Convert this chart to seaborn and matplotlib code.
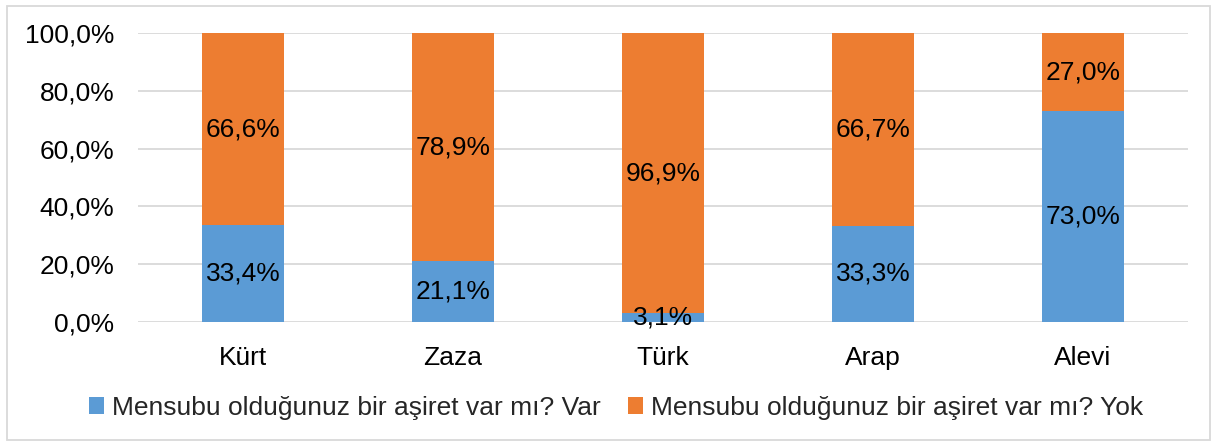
import matplotlib
matplotlib.use("Agg")
import matplotlib.pyplot as plt
import seaborn as sns
import pandas as pd
from matplotlib.ticker import FuncFormatter
from matplotlib.patches import Rectangle

categories = ["Kürt", "Zaza", "Türk", "Arap", "Alevi"]
var_values = [33.4, 21.1, 3.1, 33.3, 73.0]
yok_values = [66.6, 78.9, 96.9, 66.7, 27.0]
series_names = ["Mensubu olduğunuz bir aşiret var mı? Var",
                "Mensubu olduğunuz bir aşiret var mı? Yok"]

sns.set_theme(style="white")
plt.rcParams['font.family'] = ['Liberation Sans', 'DejaVu Sans']

blue = "#5B9BD5"
orange = "#ED7D31"
FS = 19

fig = plt.figure(figsize=(12.17, 4.46), dpi=100)
ax = fig.add_axes([138/1217, 1 - 322/446, (1188-138)/1217, (322-33)/446])

df = pd.DataFrame({"cat": categories, "var": var_values, "yok": yok_values})
sns.barplot(data=df, x="cat", y="var", color=blue, width=0.395, ax=ax,
            saturation=1, label=series_names[0], linewidth=0)
sns.barplot(data=df, x="cat", y="yok", bottom=df["var"], color=orange, width=0.395,
            ax=ax, saturation=1, label=series_names[1], linewidth=0)

for c in ax.containers:
    for p in c:
        h = p.get_height()
        ax.text(p.get_x() + p.get_width()/2, p.get_y() + h/2,
                f"{h:.1f}%".replace(".", ","), ha="center", va="center",
                fontsize=FS, color="black")

ax.set_ylim(0, 100)
ax.set_xlim(-0.5, 4.5)
ax.set_yticks([0, 20, 40, 60, 80, 100])
ax.yaxis.set_major_formatter(FuncFormatter(lambda v, p: f"{v:.1f}%".replace(".", ",")))
ax.grid(axis="y", color="#D9D9D9", linewidth=1.3)
ax.set_axisbelow(True)
for s in ax.spines.values():
    s.set_visible(False)
ax.tick_params(axis="both", labelsize=FS, length=0, colors="black")
ax.tick_params(axis="y", pad=17)
ax.tick_params(axis="x", pad=17)
ax.set_xlabel("")
ax.set_ylabel("")

handles, labels = ax.get_legend_handles_labels()
if ax.get_legend() is not None:
    ax.get_legend().remove()
fig.legend(handles, labels, loc="center", bbox_to_anchor=(616/1217, 1 - 408/446),
           ncol=2, frameon=False, fontsize=FS, handlelength=0.6, handleheight=0.6,
           handletextpad=0.3, columnspacing=1.0)

fig.patches.append(Rectangle((7/1217, 6/446), 1203/1217, 434/446, transform=fig.transFigure,
                             fill=False, edgecolor="#D9D9D9", linewidth=1.3))

fig.savefig("out.png", dpi=100)
